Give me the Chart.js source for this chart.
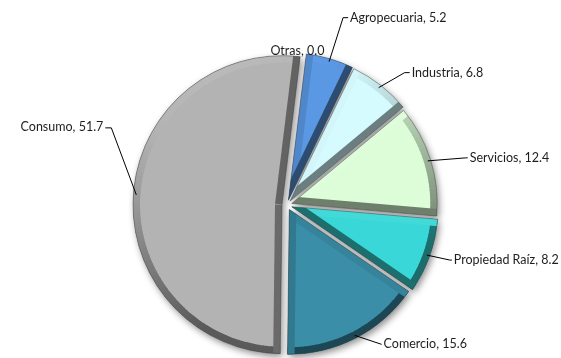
<!DOCTYPE html>
<html>
<head>
<meta charset="utf-8">
<script src="https://cdn.jsdelivr.net/npm/chart.js@4.4.1/dist/chart.umd.min.js"></script>
<style>
  body { margin: 0; background: #fff; }
  #wrap { width: 561px; height: 358px; position: relative; }
</style>
</head>
<body>
<div id="wrap"><canvas id="pieChart"></canvas></div>
<script>
// data
const categories = ["Agropecuaria", "Industria", "Servicios", "Propiedad Raíz", "Comercio", "Consumo", "Otras"];
const shares = [5.2, 6.8, 12.4, 8.2, 15.6, 51.7, 0.0];
const sliceColors = ["#5a98e4", "#d6fbff", "#dcfdd8", "#39d7d7", "#3a8ea8", "#b3b3b3", "#8c8c8c"];

// leader line bends, relative to the point on the slice edge
const leaders = [
    { dx: 14, dy: -44, run: 5 },
    { dx: 26, dy: -15, run: 5 },
    { dx: 38, dy: -3, run: 2 },
    { dx: 23, dy: 5, run: 2 },
    { dx: 27, dy: 9, run: 0 },
    { dx: -25, dy: -67, run: -6 },
    { dx: -8, dy: -4, run: 0, noLine: true }
];

const light = { x: -0.35, y: -0.94 };

function hexRgb(h) {
    return [parseInt(h.substr(1, 2), 16), parseInt(h.substr(3, 2), 16), parseInt(h.substr(5, 2), 16)];
}

function bevelColor(hex, nx, ny) {
    const c = hexRgb(hex);
    const dot = nx * light.x + ny * light.y;
    let k = 0.28 - 0.36 * dot;
    k = Math.max(-0.25, Math.min(0.5, k));
    const t = k >= 0 ? 0 : 255;
    const a = Math.abs(k);
    return "rgb(" + c.map(v => Math.round(v + (t - v) * a)).join(",") + ")";
}

function sliceGeom(el) {
    const s = el.startAngle, e = el.endAngle;
    const mid = (s + e) / 2;
    const t = (el.options.offset || 0) / 4;
    const fix = 1 - Math.sin(Math.min(Math.PI, e - s));
    return {
        s: s, e: e, mid: mid,
        cx: el.x + Math.cos(mid) * t,
        cy: el.y + Math.sin(mid) * t,
        r: el.outerRadius + t * fix
    };
}

const shadowPlugin = {
    id: "sliceShadow",
    beforeDatasetDraw(chart) {
        const ctx = chart.ctx;
        ctx.save();
        ctx.shadowColor = "rgba(0,0,0,0.45)";
        ctx.shadowBlur = 7;
        ctx.shadowOffsetX = 2;
        ctx.shadowOffsetY = 3;
        chart.getDatasetMeta(0).data.forEach(function (el) {
            if (el.endAngle - el.startAngle <= 0) return;
            const g = sliceGeom(el);
            ctx.fillStyle = "#9a9a9a";
            ctx.beginPath();
            ctx.moveTo(g.cx, g.cy);
            ctx.arc(g.cx, g.cy, g.r, g.s, g.e);
            ctx.closePath();
            ctx.fill();
        });
        ctx.restore();
    }
};

const bevelPlugin = {
    id: "bevel",
    afterDatasetDraw(chart) {
        const ctx = chart.ctx;
        const bw = 7;
        chart.getDatasetMeta(0).data.forEach(function (el, i) {
            if (el.endAngle - el.startAngle <= 0) return;
            const g = sliceGeom(el);
            const base = sliceColors[i];
            ctx.save();
            ctx.beginPath();
            ctx.moveTo(g.cx, g.cy);
            ctx.arc(g.cx, g.cy, g.r, g.s, g.e);
            ctx.closePath();
            ctx.clip();

            // rim along the round edge
            const steps = Math.max(2, Math.ceil((g.e - g.s) / 0.03));
            for (let k = 0; k < steps; k++) {
                const a0 = g.s + (g.e - g.s) * k / steps;
                const a1 = g.s + (g.e - g.s) * (k + 1) / steps;
                const am = (a0 + a1) / 2;
                ctx.fillStyle = bevelColor(base, Math.cos(am), Math.sin(am));
                ctx.beginPath();
                ctx.arc(g.cx, g.cy, g.r + 1, a0 - 0.003, a1 + 0.003);
                ctx.arc(g.cx, g.cy, g.r - bw, a1 + 0.003, a0 - 0.003, true);
                ctx.closePath();
                ctx.fill();
            }

            // straight edges
            [[g.s, 1], [g.e, -1]].forEach(function (edge) {
                const a = edge[0], side = edge[1];
                const inx = -Math.sin(a) * side, iny = Math.cos(a) * side;
                ctx.fillStyle = bevelColor(base, -inx, -iny);
                const ox = g.cx + Math.cos(a) * (g.r + 2), oy = g.cy + Math.sin(a) * (g.r + 2);
                ctx.beginPath();
                ctx.moveTo(g.cx - inx, g.cy - iny);
                ctx.lineTo(ox - inx, oy - iny);
                ctx.lineTo(ox + inx * bw, oy + iny * bw);
                ctx.lineTo(g.cx + inx * bw, g.cy + iny * bw);
                ctx.closePath();
                ctx.fill();
            });
            ctx.restore();

            // thin outline
            ctx.save();
            ctx.strokeStyle = "rgba(60,60,60,0.45)";
            ctx.lineWidth = 1;
            ctx.beginPath();
            ctx.moveTo(g.cx, g.cy);
            ctx.arc(g.cx, g.cy, g.r, g.s, g.e);
            ctx.closePath();
            ctx.stroke();
            ctx.restore();
        });
    }
};

const calloutPlugin = {
    id: "callouts",
    afterDraw(chart) {
        const ctx = chart.ctx;
        ctx.save();
        ctx.font = "12.5px Lato, 'Liberation Sans', sans-serif";
        ctx.textBaseline = "middle";
        ctx.strokeStyle = "#000";
        ctx.fillStyle = "#1e1e1e";
        ctx.lineWidth = 1;
        chart.getDatasetMeta(0).data.forEach(function (el, i) {
            const g = sliceGeom(el);
            const L = leaders[i];
            const ax = g.cx + Math.cos(g.mid) * (g.r - 3);
            const ay = g.cy + Math.sin(g.mid) * (g.r - 3);
            const bx = ax + L.dx, by = ay + L.dy;
            const text = categories[i] + ", " + shares[i].toFixed(1);
            if (L.noLine) {
                ctx.textAlign = "center";
                ctx.fillText(text, bx, by);
                return;
            }
            ctx.beginPath();
            ctx.moveTo(ax, ay);
            ctx.lineTo(bx, by);
            ctx.lineTo(bx + L.run, by);
            ctx.stroke();
            if (L.run < 0) {
                ctx.textAlign = "right";
                ctx.fillText(text, bx + L.run - 2, by - 1);
            } else {
                ctx.textAlign = "left";
                ctx.fillText(text, bx + L.run + 2, by);
            }
        });
        ctx.restore();
    }
};

new Chart(document.getElementById("pieChart"), {
    type: "pie",
    data: {
        labels: categories,
        datasets: [{
            data: shares,
            backgroundColor: sliceColors,
            borderWidth: 0,
            offset: 20
        }]
    },
    options: {
        responsive: true,
        maintainAspectRatio: false,
        animation: false,
        rotation: 7,
        radius: 144,
        layout: { padding: { left: 73, right: 60, top: 54, bottom: 2 } },
        plugins: {
            legend: { display: false },
            tooltip: { enabled: false }
        }
    },
    plugins: [shadowPlugin, bevelPlugin, calloutPlugin]
});
</script>
</body>
</html>
